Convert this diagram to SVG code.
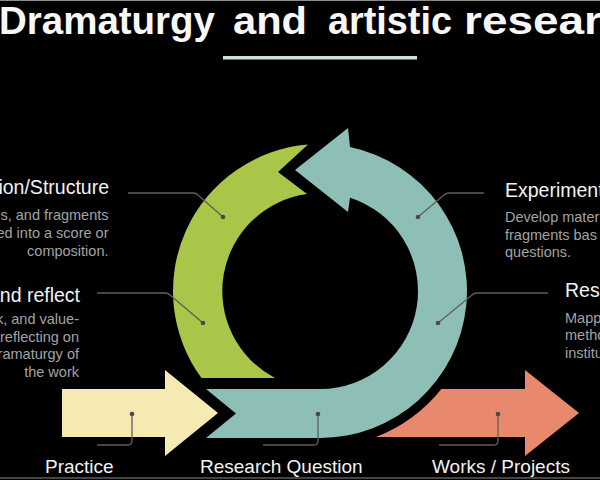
<svg xmlns="http://www.w3.org/2000/svg" width="600" height="480" viewBox="0 0 600 480">
<defs>
<style>
.h{font-family:"Liberation Sans",Arial,sans-serif;font-size:19.5px;fill:#f2f2f2}
.d{font-family:"Liberation Sans",Arial,sans-serif;font-size:14.5px;fill:#a3a3a3}
.b{font-family:"Liberation Sans",Arial,sans-serif;font-size:19px;fill:#f2f2f2}
.t{font-family:"Liberation Sans",Arial,sans-serif;font-size:38px;font-weight:bold;fill:#f7f7f7}
.ld{fill:none;stroke:#5e5e5e;stroke-width:1.3}
.dot{fill:#4a4a4a}
.e{text-anchor:end}
</style>
</defs>
<rect width="600" height="480" fill="#000"/>
<line x1="0" y1="0.5" x2="600" y2="0.5" stroke="#8a8a8a"/>
<line x1="0" y1="478" x2="600" y2="478" stroke="#8a8a8a"/>

<g id="title">
<text class="t" y="34" lengthAdjust="spacingAndGlyphs"><tspan x="-1" textLength="216" lengthAdjust="spacingAndGlyphs">Dramaturgy</tspan><tspan x="233" textLength="74" lengthAdjust="spacingAndGlyphs">and</tspan><tspan x="328" textLength="124" lengthAdjust="spacingAndGlyphs">artistic</tspan><tspan x="464" textLength="138" lengthAdjust="spacingAndGlyphs">resear</tspan></text>
<rect x="223" y="56" width="194" height="3.5" fill="#cfe0e2"/>
</g>

<g id="composition">
<path d="M201.5 378 A147 147 0 0 1 308 144.5 L278 172 L307 194 A98 98 0 0 0 275 378 Z" fill="#a9c648"/>
<text class="h e" x="109" y="194">tion/Structure</text>
<text class="d e" x="108.5" y="220">s, and fragments</text>
<text class="d e" x="108.5" y="237.5">ed into a score or</text>
<text class="d e" x="108.5" y="255.5">composition.</text>
</g>

<g id="reflect">
<text class="h e" x="80" y="302">and reflect</text>
<text class="d e" x="79" y="324">k, and value-</text>
<text class="d e" x="79" y="341.5">reflecting on</text>
<text class="d e" x="79" y="359">ramaturgy of</text>
<text class="d e" x="79" y="377">the work</text>
</g>

<g id="research-question">
<path d="M206 389 H320 A98 98 0 0 0 350 197.7 L348 212 L295 170 L348 128 L350 147.1 A147 147 0 0 1 320 438 H206 L236 413.5 Z" fill="#8ebfb7"/>
<text class="b" x="200" y="473">Research Question</text>
</g>

<g id="experiment">
<text class="h" x="505" y="197">Experiment</text>
<text class="d" x="505" y="222">Develop mater</text>
<text class="d" x="505" y="239.5">fragments bas</text>
<text class="d" x="505" y="257">questions.</text>
</g>

<g id="research">
<text class="h" x="565" y="297">Rese</text>
<text class="d" x="565" y="322.5">Mapp</text>
<text class="d" x="565" y="340">metho</text>
<text class="d" x="565" y="357.5">institu</text>
</g>

<g id="practice">
<path d="M62 389 H165 V370 L218 413 L165 456 V437 H62 Z" fill="#f5ebb2"/>
<text class="b" x="45" y="473">Practice</text>
</g>

<g id="works">
<path d="M441.4 389 H525 V370 L579 413 L525 456 V437 H376 A156 156 0 0 0 441.4 389 Z" fill="#e8896d"/>
<text class="b" x="432" y="473">Works / Projects</text>
</g>

<g id="connectors">
<path class="ld" d="M128 193 H193 Q196 193 198 195 L223 217"/>
<path class="ld" d="M97 293 H165 Q168 293 170 295 L203 323"/>
<path class="ld" d="M484 193 H449 Q446 193 444 195 L418 217"/>
<path class="ld" d="M548 293 H477 Q474 293 472 295 L438 323"/>
<path class="ld" d="M132 414 V441 Q132 445 128 445 H97"/>
<path class="ld" d="M318 414 V441 Q318 445 314 445 H263"/>
<path class="ld" d="M498 414 V441 Q498 445 494 445 H439"/>
<circle class="dot" cx="223" cy="217" r="2.3"/>
<circle class="dot" cx="203" cy="323" r="2.3"/>
<circle class="dot" cx="418" cy="217" r="2.3"/>
<circle class="dot" cx="438" cy="323" r="2.3"/>
<circle class="dot" cx="132" cy="414" r="2.3"/>
<circle class="dot" cx="318" cy="414" r="2.3"/>
<circle class="dot" cx="498" cy="414" r="2.3"/>
</g>
</svg>
